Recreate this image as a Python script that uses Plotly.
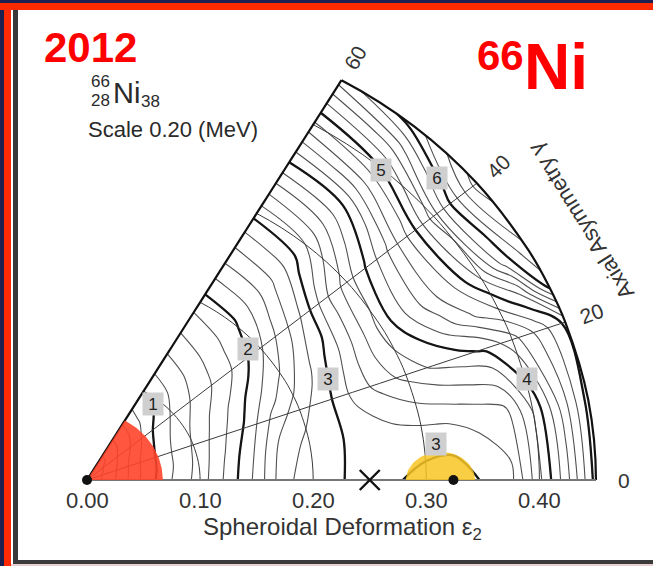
import numpy as np
import plotly.graph_objects as go

# ---------------- data ----------------
# potential-energy surface of 66Ni (MeV) on a polar grid (eps2, gamma)
eps2 = [0.0, 0.025, 0.05, 0.075, 0.10, 0.125, 0.15, 0.175, 0.20, 0.225,
        0.25, 0.275, 0.30, 0.325, 0.35, 0.375, 0.40, 0.425, 0.45]
gamma_deg = [0, 10, 20, 25, 30, 40, 50, 60]

E_g0 = [0, 0.40, 0.85, 1.20, 1.49, 1.87, 2.26, 2.76, 2.89, 2.99, 3.08, 3.02, 2.90, 2.85, 3.02, 3.15, 3.75, 4.35, 5.08]
E_g10 = [0, 0.38, 0.83, 1.17, 1.46, 1.82, 2.20, 2.68, 2.86, 2.97, 3.11, 3.15, 3.19, 3.21, 3.26, 3.32, 3.82, 4.45, 5.08]
E_g20 = [0, 0.35, 0.80, 1.15, 1.42, 1.72, 2.04, 2.45, 2.72, 2.93, 3.25, 3.48, 3.67, 3.83, 3.92, 4.04, 4.32, 4.67, 5.05]
E_g25 = [0, 0.33, 0.77, 1.13, 1.39, 1.66, 1.95, 2.30, 2.58, 2.86, 3.20, 3.53, 3.80, 4.01, 4.29, 4.57, 4.83, 5.20, 6.10]
E_g30 = [0, 0.30, 0.72, 1.10, 1.35, 1.60, 1.86, 2.16, 2.45, 2.77, 3.10, 3.48, 3.86, 4.20, 4.52, 4.80, 5.25, 5.88, 6.35]
E_g40 = [0, 0.27, 0.60, 0.99, 1.24, 1.45, 1.65, 1.87, 2.17, 2.50, 2.85, 3.35, 3.70, 4.05, 4.45, 4.90, 5.50, 6.15, 6.70]
E_g50 = [0, 0.20, 0.50, 0.83, 1.10, 1.33, 1.55, 1.76, 1.96, 2.25, 2.55, 2.85, 3.20, 3.60, 3.98, 4.50, 4.99, 5.50, 6.10]
E_g60 = [0, 0.18, 0.45, 0.75, 1.02, 1.25, 1.47, 1.68, 1.90, 2.18, 2.47, 2.75, 3.07, 3.45, 3.87, 4.30, 4.75, 5.22, 5.70]
energy_rows = [E_g0, E_g10, E_g20, E_g25, E_g30, E_g40, E_g50, E_g60]

x_tick_vals = [0.0, 0.1, 0.2, 0.3, 0.4]
x_tick_text = ["0.00", "0.10", "0.20", "0.30", "0.40"]
gamma_tick_vals = [0, 20, 40, 60]
gamma_tick_text = ["0", "20", "40", "60"]

contour_label_text = ["1", "2", "3", "3", "4", "5", "6"]
contour_label_eps = [0.094, 0.191, 0.235, 0.311, 0.401, 0.3985, 0.427]
contour_label_gam = [51.8, 41.9, 24.8, 6.5, 14.2, 49.3, 43.6]

spherical_eps = 0.0
deformed_min_eps = 0.324
saddle_eps = 0.250
red_sector_radius = 0.067
yellow_center, yellow_halfwidth, yellow_height = 0.3126, 0.0305, 0.0273

# ---------------- geometry / layout constants ----------------
W, H = 653, 566
X0, Y0 = 87, 480          # pixel of origin
SX, SY = 1131, 1026       # pixels per unit
FONT = "Liberation Sans, Arial, sans-serif"

def pol(e, g):
    g = np.radians(g)
    return e * np.cos(g), e * np.sin(g)

A, B = np.meshgrid(np.array(eps2), np.array(gamma_deg))
CX, CY = pol(A, B)

fig = go.Figure()
fig.add_trace(go.Carpet(
    a=eps2, b=gamma_deg, x=CX.tolist(), y=CY.tolist(), carpet="pes",
    aaxis=dict(tickmode="linear", tick0=0, dtick=0.1, showticklabels="none",
               showgrid=True, gridcolor="#3a3a3a", gridwidth=1, minorgridcount=0,
               startline=False, endline=True, endlinecolor="#111111", endlinewidth=2.2,
               color="#3a3a3a", smoothing=1),
    baxis=dict(tickmode="linear", tick0=0, dtick=20, showticklabels="none",
               showgrid=True, gridcolor="#3a3a3a", gridwidth=1, minorgridcount=0,
               startline=True, startlinecolor="#777777", startlinewidth=2.2,
               endline=True, endlinecolor="#111111", endlinewidth=2.2,
               color="#3a3a3a", smoothing=1),
))
fig.add_trace(go.Contourcarpet(
    a=eps2, b=gamma_deg, z=energy_rows, carpet="pes", autocontour=False,
    contours=dict(start=0.2, end=6.8, size=0.2, coloring="none"),
    line=dict(color="#505050", width=1.1, smoothing=1), showscale=False))
fig.add_trace(go.Contourcarpet(
    a=eps2, b=gamma_deg, z=energy_rows, carpet="pes", autocontour=False,
    contours=dict(start=1, end=6, size=1, coloring="none"),
    line=dict(color="#151515", width=2.3, smoothing=1), showscale=False))

# red sector around spherical point
ang = np.linspace(0, 60, 41)
rx, ry = pol(red_sector_radius, ang)
fig.add_trace(go.Scatter(x=[0] + rx.tolist() + [0], y=[0] + ry.tolist() + [0],
                         mode="lines", fill="toself", line=dict(width=0),
                         fillcolor="rgba(255,68,42,0.9)", hoverinfo="skip"))
# yellow half-disc around deformed minimum
t = np.radians(np.linspace(0, 180, 41))
fig.add_trace(go.Scatter(x=(yellow_center + yellow_halfwidth * np.cos(t)).tolist(),
                         y=(yellow_height * np.sin(t)).tolist(),
                         mode="lines", fill="toself", line=dict(width=0),
                         fillcolor="rgba(248,198,35,0.85)", hoverinfo="skip"))
# points
fig.add_trace(go.Scatter(x=[spherical_eps, deformed_min_eps], y=[0, 0], mode="markers",
                         marker=dict(color="#111111", size=10), cliponaxis=False))
fig.add_trace(go.Scatter(x=[saddle_eps], y=[0], mode="markers",
                         marker=dict(symbol="x-thin", size=20, line=dict(width=2.4, color="#111111")),
                         cliponaxis=False))

ann = []
for v, tx in zip(x_tick_vals, x_tick_text):
    ann.append(dict(x=v, y=0, text=tx, showarrow=False, yshift=-20, yanchor="middle",
                    font=dict(family=FONT, size=22, color="#333333")))
ann.append(dict(x=(342 - X0) / SX, y=0, text="Spheroidal Deformation ε<sub>2</sub>", showarrow=False,
                yshift=-48, yanchor="middle", font=dict(family=FONT, size=24, color="#333333")))
rot = {0: 0, 20: -20, 40: -45, 60: -60}
for g, tx in zip(gamma_tick_vals, gamma_tick_text):
    px, py = pol(0.475, g)
    ann.append(dict(x=float(px), y=float(py), text=tx, showarrow=False, textangle=rot[g],
                    font=dict(family=FONT, size=21, color="#333333")))
px, py = pol(0.505, 30)
ann.append(dict(x=float(px), y=float(py), text="Axial Asymmetry γ", showarrow=False, textangle=-122,
                font=dict(family=FONT, size=22, color="#333333")))
for tx, e, g in zip(contour_label_text, contour_label_eps, contour_label_gam):
    px, py = pol(e, g)
    ann.append(dict(x=float(px), y=float(py), text=tx, showarrow=False, bgcolor="#cfcfcf",
                    borderpad=2, width=16, height=18,
                    font=dict(family=FONT, size=17, color="#222222")))

def P(x, y, text, size, color="#2a2a2a", xanchor="center", bold=False):
    return dict(x=x / W, y=1 - y / H, xref="paper", yref="paper", text=(f"<b>{text}</b>" if bold else text),
                showarrow=False, xanchor=xanchor, yanchor="middle",
                font=dict(family=FONT, size=size, color=color))

ann += [
    P(90, 47, "2012", 42, "#ff0000", bold=True),
    P(500, 55, "66", 42, "#ff0000", bold=True),
    P(556, 67, "Ni", 64, "#ff0000", bold=True),
    P(89, 81, "66", 17, xanchor="left"),
    P(89, 101, "28", 17, xanchor="left"),
    P(111, 93, "Ni", 29, xanchor="left"),
    P(139, 102, "38", 17, xanchor="left"),
    P(86, 130, "Scale 0.20 (MeV)", 22, xanchor="left"),
]

def R(x0, y0, x1, y1, color):
    return dict(type="rect", xref="paper", yref="paper", x0=x0 / W, x1=x1 / W,
                y0=1 - y1 / H, y1=1 - y0 / H, fillcolor=color, line=dict(width=0), layer="above")

shapes = [
    R(0, 0, W, 3, "#1e2050"),
    R(0, 0, 4, H, "#1e2050"),
    R(0, 3, W, 10, "#ff2a00"),
    R(4, 3, 11, H, "#ff2a00"),
    R(13, 10, 18, 563, "#3a3a3a"),
    R(13, 560, W, 564, "#3a3a3a"),
    R(11, 564, W, H, "#e9cfcf"),
]

fig.update_layout(
    width=W, height=H, margin=dict(l=0, r=0, t=0, b=0),
    paper_bgcolor="white", plot_bgcolor="rgba(0,0,0,0)", showlegend=False,
    xaxis=dict(range=[-X0 / SX, (W - X0) / SX], visible=False, fixedrange=True),
    yaxis=dict(range=[-(H - Y0) / SY, Y0 / SY], visible=False, fixedrange=True),
    annotations=ann, shapes=shapes,
)
fig.write_html("out.html")
